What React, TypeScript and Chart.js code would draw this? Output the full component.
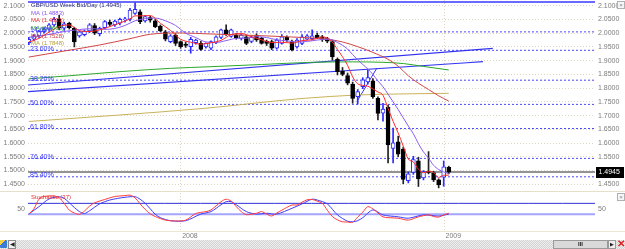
import React, { useEffect, useRef } from "react";
import { Chart, registerables } from "chart.js";
Chart.register(...registerables);

// ---------- DATA (weekly candles, index 0 = mid-June 2007, 83 = early Jan 2009) ----------
const candleOpen = [
  1.965, 1.978, 1.990, 2.006, 2.015, 2.030, 2.050, 2.018, 2.036, 2.018,
  1.990, 1.995, 2.008, 2.028, 1.998, 2.020, 2.040, 2.030, 2.036, 2.049,
  2.050, 2.072, 2.078, 2.045, 2.057, 2.045, 2.026, 2.005, 1.969, 1.993,
  1.969, 1.960, 1.951, 1.965, 1.963, 1.950, 1.945, 1.966, 1.985, 2.012,
  1.988, 1.993, 1.981, 1.987, 1.970, 1.993, 1.981, 1.970, 1.969, 1.945,
  1.963, 1.985, 1.969, 1.950, 1.963, 1.978, 1.980, 1.993, 1.987, 1.980,
  1.969, 1.905, 1.862, 1.846, 1.815, 1.769, 1.805, 1.823, 1.827, 1.763,
  1.709, 1.731, 1.581, 1.605, 1.578, 1.463, 1.493, 1.535, 1.473, 1.497,
  1.492, 1.466, 1.476, 1.512,
];
const candleHigh = [
  1.985, 1.995, 2.010, 2.020, 2.035, 2.058, 2.065, 2.040, 2.040, 2.022,
  2.008, 2.012, 2.035, 2.035, 2.022, 2.046, 2.048, 2.048, 2.055, 2.058,
  2.090, 2.110, 2.085, 2.064, 2.062, 2.050, 2.030, 2.010, 1.995, 1.998,
  1.972, 1.968, 1.985, 1.978, 1.970, 1.965, 1.972, 1.990, 2.015, 2.030,
  2.015, 1.998, 1.996, 1.992, 1.990, 1.998, 1.985, 1.975, 1.975, 1.980,
  1.995, 1.990, 1.975, 1.980, 1.995, 1.995, 2.012, 2.000, 1.992, 1.985,
  1.975, 1.910, 1.875, 1.855, 1.822, 1.795, 1.838, 1.866, 1.835, 1.768,
  1.745, 1.738, 1.655, 1.625, 1.585, 1.495, 1.552, 1.548, 1.500, 1.569,
  1.497, 1.470, 1.535, 1.516,
];
const candleLow = [
  1.958, 1.972, 1.985, 2.000, 2.010, 2.025, 2.012, 2.010, 2.015, 1.950,
  1.985, 1.990, 2.002, 1.995, 1.990, 2.015, 2.025, 2.025, 2.030, 2.040,
  2.045, 2.068, 2.035, 2.040, 2.040, 2.020, 2.005, 1.972, 1.965, 1.955,
  1.945, 1.948, 1.927, 1.960, 1.938, 1.945, 1.940, 1.962, 1.980, 1.992,
  1.985, 1.978, 1.975, 1.958, 1.965, 1.970, 1.960, 1.955, 1.940, 1.942,
  1.960, 1.970, 1.935, 1.945, 1.958, 1.975, 1.975, 1.980, 1.970, 1.965,
  1.902, 1.848, 1.845, 1.812, 1.745, 1.742, 1.798, 1.815, 1.763, 1.684,
  1.680, 1.528, 1.528, 1.550, 1.452, 1.455, 1.486, 1.442, 1.466, 1.488,
  1.460, 1.437, 1.443, 1.488,
];
const candleClose = [
  1.978, 1.990, 2.006, 2.015, 2.030, 2.050, 2.018, 2.034, 2.020, 1.968,
  2.005, 2.008, 2.030, 2.000, 2.018, 2.042, 2.032, 2.044, 2.050, 2.052,
  2.084, 2.087, 2.042, 2.060, 2.047, 2.024, 2.009, 1.978, 1.990, 1.963,
  1.951, 1.955, 1.978, 1.975, 1.941, 1.963, 1.969, 1.987, 2.012, 1.994,
  2.012, 1.982, 1.993, 1.963, 1.985, 1.975, 1.963, 1.963, 1.945, 1.975,
  1.987, 1.975, 1.939, 1.975, 1.987, 1.990, 1.990, 1.984, 1.977, 1.971,
  1.914, 1.860, 1.850, 1.818, 1.763, 1.787, 1.830, 1.838, 1.769, 1.708,
  1.724, 1.593, 1.601, 1.560, 1.468, 1.488, 1.540, 1.470, 1.496, 1.493,
  1.466, 1.448, 1.514, 1.4945,
];

// moving averages: [week index, price]
const maFast = [
  [0, 1.968], [2, 1.981], [4, 2.004], [6, 2.024], [8, 2.030], [10, 2.009], [12, 2.006], [14, 2.012],
  [16, 2.024], [18, 2.037], [20, 2.052], [21, 2.063], [22, 2.063], [24, 2.064], [26, 2.036], [28, 2.010],
  [30, 1.978], [32, 1.967], [34, 1.960], [36, 1.965], [38, 1.974], [40, 1.995], [42, 1.999], [44, 1.987],
  [46, 1.976], [48, 1.966], [50, 1.967], [52, 1.964], [54, 1.973], [56, 1.976], [58, 1.986], [59, 1.982],
  [60, 1.967], [61, 1.941], [62, 1.914], [63, 1.883], [64, 1.841], [65, 1.816], [66, 1.810], [67, 1.807],
  [68, 1.797], [69, 1.786], [70, 1.774], [71, 1.726], [72, 1.679], [73, 1.637], [74, 1.589], [75, 1.542],
  [76, 1.531], [77, 1.505], [78, 1.492], [79, 1.497], [80, 1.493], [81, 1.475], [82, 1.483], [83, 1.4831],
];
const maMid = [
  [0, 1.985], [3, 1.992], [6, 2.003], [9, 2.011], [11, 2.015], [13, 2.016], [15, 2.014], [17, 2.017],
  [19, 2.028], [21, 2.045], [23, 2.053], [25, 2.055], [27, 2.045], [29, 2.028], [31, 2.000], [33, 1.984],
  [35, 1.968], [37, 1.966], [39, 1.973], [41, 1.981], [43, 1.982], [45, 1.987], [47, 1.984], [49, 1.976],
  [51, 1.972], [53, 1.968], [55, 1.970], [57, 1.975], [59, 1.978], [60, 1.975], [61, 1.966], [62, 1.956],
  [63, 1.942], [64, 1.922], [65, 1.903], [66, 1.886], [67, 1.870], [68, 1.850], [69, 1.826], [70, 1.805],
  [71, 1.778], [72, 1.750], [73, 1.722], [74, 1.692], [75, 1.662], [76, 1.634], [77, 1.598], [78, 1.568],
  [79, 1.545], [80, 1.519], [81, 1.504], [82, 1.495], [83, 1.4883],
];
const maSlow = [
  [0, 1.913], [7, 1.935], [14, 1.957], [20, 1.980], [24, 1.996], [30, 2.0007], [36, 1.997], [42, 1.9934],
  [52, 1.986], [59, 1.978], [62, 1.968], [65, 1.951], [68, 1.930], [71, 1.905], [73, 1.880], [75, 1.845],
  [77, 1.818], [79, 1.795], [81, 1.772], [83, 1.7528],
];
const maGreen = [
  [0, 1.834], [8, 1.845], [18, 1.860], [28, 1.872], [36, 1.878], [46, 1.886], [56, 1.894], [64, 1.8955],
  [70, 1.894], [74, 1.8895], [78, 1.879], [83, 1.866],
];
const maYellow = [
  [0, 1.6786], [18, 1.7023], [35, 1.727], [54, 1.7623], [65, 1.775], [73, 1.7787], [83, 1.7812],
];

// trend lines: [week index, price]
const trendUpper = [[-0.16, 1.8114], [91.7, 1.945]];
const trendLower = [[-0.16, 1.787], [89.75, 1.8962]];
const trendShort = [[64.86, 1.7514], [68.8, 1.8733]];

// Fibonacci retracement levels
const fibPrices = [2.1135, 2.0047, 1.9377, 1.8289, 1.7408, 1.653, 1.5443, 1.4773];
const fibLabels = ["", "14.60%", "23.60%", "38.20%", "50.00%", "61.80%", "76.40%", "85.40%"];

const lastPrice = 1.4945;
const priceTicks = [2.1, 2.05, 2.0, 1.95, 1.9, 1.85, 1.8, 1.75, 1.7, 1.65, 1.6, 1.55, 1.5, 1.45];
const yearTickPos = [30.07, 82.11];
const yearLabels = ["2008", "2009"];

const legendLabels = [
  "GBP/USD Week Bid/Day (1.4945)",
  "MA (1.4883)",
  "MA (1.4831)",
  "MA (1.8660)",
  "MA (1.7528)",
  "MA (1.7848)",
];

// stochastic: [week index, value]
const stochK = [
  [0, 31], [1, 50], [2, 85], [3, 95], [5, 97], [6, 90], [7, 70], [8, 45], [9, 35], [10, 30], [11, 42],
  [12, 60], [13, 72], [15, 84], [17, 95], [19, 98], [20, 100], [21, 90], [22, 68], [23, 48], [24, 32],
  [25, 22], [27, 9], [29, 6], [31, 9], [33, 33], [35, 40], [36, 46], [38, 76], [39, 85], [40, 78],
  [41, 58], [42, 40], [43, 29], [45, 34], [46, 40], [47, 31], [48, 24], [49, 35], [50, 45], [52, 64],
  [53, 64], [54, 74], [55, 83], [56, 84], [57, 78], [58, 70], [59, 45], [60, 22], [61, 10], [62, 3],
  [63, 2], [64, 1], [65, 20], [66, 38], [67, 58], [68, 50], [69, 35], [70, 21], [71, 18], [73, 16],
  [75, 9], [77, 21], [79, 28], [80, 22], [81, 20], [82, 28], [83, 34],
];
const stochD = [
  [0, 31], [2, 58], [4, 86], [6, 94], [7, 88], [8, 72], [9, 55], [10, 40], [11, 33], [12, 43], [14, 68],
  [16, 82], [19, 92], [21, 94], [22, 85], [23, 70], [24, 50], [25, 30], [26, 18], [28, 7], [31, 7],
  [34, 31], [36, 40], [38, 65], [39, 76], [40, 76], [41, 65], [43, 40], [45, 31], [47, 34], [49, 31],
  [52, 52], [54, 68], [56, 85], [57, 82], [59, 68], [61, 28], [63, 5], [64, 3], [65, 7], [66, 18],
  [68, 46], [70, 28], [73, 21], [75, 16], [78, 28], [81, 24], [83, 31],
];
const stochLevels = [70, 30];
const stochTicks = [50];
const stochTitle = "Stochastic (37)";

// ---------- LAYOUT / STYLE ----------
const X_MIN = -0.162;
const X_MAX = 111.9;
const Y_MIN = 1.42925;
const Y_MAX = 2.12074;
const S_MIN = -30.5;
const S_MAX = 107.6;
const FONT = "'Liberation Sans', Arial, sans-serif";
const AXIS_GRAY = "#7c7c7c";
const GRID = "#ddd5bf";
const legendColors = ["#23237a", "#8a55f0", "#ee2a2a", "#22a022", "#c83c3c", "#b89c3a"];

const pts = (arr: number[][]) => arr.map(([x, y]) => ({ x, y }));

function fixY(width: number) {
  return (s: any) => {
    s.width = width;
    s.paddingTop = 0;
    s.paddingBottom = 0;
  };
}

function MainChart() {
  const ref = useRef<HTMLCanvasElement>(null);
  useEffect(() => {
    const idx = candleOpen.map((_, i) => i);
    const up = idx.map((i) => candleClose[i] >= candleOpen[i]);
    const line = (data: number[][], color: string, width = 1, extra: any = {}) => ({
      type: "line",
      data: pts(data),
      borderColor: color,
      borderWidth: width,
      pointRadius: 0,
      cubicInterpolationMode: "monotone",
      yAxisID: "y",
      ...extra,
    });
    const fibSets = fibPrices.map((p, k) =>
      line(
        [
          [X_MIN, p],
          [X_MAX, p],
        ],
        k === 0 ? "#6a6aff" : "#4848ff",
        k === 0 ? 2 : 1,
        { borderDash: k === 0 ? [] : [2, 2], order: 20 }
      )
    );
    const datasets: any[] = [
      ...fibSets,
      line(
        [
          [X_MIN, lastPrice],
          [X_MAX, lastPrice],
        ],
        "#707070",
        1.5,
        { order: 19 }
      ),
      line(trendUpper, "#3434f0", 1.2, { order: 18 }),
      line(trendLower, "#3434f0", 1.2, { order: 18 }),
      line(trendShort, "#3434f0", 1, { order: 18 }),
      line(maYellow, "#c9b25a", 1, { order: 17 }),
      line(maGreen, "#2aa82a", 1, { order: 17 }),
      {
        type: "bar",
        data: idx.map((i) => ({ x: i, y: [candleLow[i], candleHigh[i]] })),
        backgroundColor: up.map((u) => (u ? "#2c2cff" : "#202020")),
        barThickness: 1,
        grouped: false,
        yAxisID: "y",
        order: 6,
      },
      {
        type: "bar",
        data: idx.map((i) => ({ x: i, y: [candleOpen[i], candleClose[i]] })),
        backgroundColor: up.map((u) => (u ? "#ffffff" : "#000000")),
        borderColor: up.map((u) => (u ? "#2c2cff" : "#000000")),
        borderWidth: 1,
        borderSkipped: false,
        barThickness: 4,
        grouped: false,
        yAxisID: "y",
        order: 5,
      },
      line(maSlow, "#d04545", 1, { order: 3 }),
      line(maMid, "#8a5cf5", 1, { order: 2 }),
      line(maFast, "#ff2a2a", 1, { order: 1 }),
    ];

    const overlay = {
      id: "mainOverlay",
      afterDraw(chart: any) {
        const { ctx, chartArea, scales } = chart;
        const y = scales.y;
        ctx.save();
        ctx.textAlign = "left";
        ctx.textBaseline = "alphabetic";
        ctx.font = `7px ${FONT}`;
        ctx.fillStyle = "#3a3aff";
        fibPrices.forEach((p, k) => {
          if (!fibLabels[k]) return;
          ctx.fillText(fibLabels[k], chartArea.left + 2, y.getPixelForValue(p) + 0.5);
        });
        ctx.font = `6px ${FONT}`;
        ctx.textBaseline = "middle";
        legendLabels.forEach((t, k) => {
          ctx.fillStyle = legendColors[k];
          ctx.fillText(t, chartArea.left + 3, 5.5 + k * 7.6);
        });
        const py = y.getPixelForValue(lastPrice);
        ctx.fillStyle = "#000";
        ctx.fillRect(chartArea.right + 1, Math.round(py) - 5, 28, 11);
        ctx.fillStyle = "#fff";
        ctx.font = `7px ${FONT}`;
        ctx.fillText(lastPrice.toFixed(4), chartArea.right + 3.5, Math.round(py) + 0.5);
        ctx.restore();
      },
    };

    const chart = new Chart(ref.current as HTMLCanvasElement, {
      type: "line",
      data: { datasets },
      options: {
        animation: false,
        responsive: false,
        maintainAspectRatio: false,
        layout: { padding: { top: 0, bottom: 1, left: 0, right: 0 } },
        plugins: { legend: { display: false }, tooltip: { enabled: false } },
        scales: {
          x: {
            type: "linear",
            min: X_MIN,
            max: X_MAX,
            offset: false,
            afterBuildTicks: (s: any) => {
              s.ticks = yearTickPos.map((v) => ({ value: v }));
            },
            afterFit: (s: any) => {
              s.height = 0;
              s.paddingLeft = 0;
              s.paddingRight = 0;
            },
            ticks: { display: false },
            grid: { color: GRID, drawTicks: false, offset: false },
            border: { display: false, dash: [1, 2] },
          },
          y: {
            type: "linear",
            position: "left",
            min: Y_MIN,
            max: Y_MAX,
            afterBuildTicks: (s: any) => {
              s.ticks = priceTicks.map((v) => ({ value: v }));
            },
            afterFit: fixY(28),
            ticks: {
              color: AXIS_GRAY,
              font: { size: 7, family: FONT },
              padding: 3,
              callback: (v: any) => Number(v).toFixed(4),
            },
            grid: { color: GRID, drawTicks: false },
            border: { display: false, dash: [1, 2] },
          },
          y2: {
            type: "linear",
            position: "right",
            min: Y_MIN,
            max: Y_MAX,
            afterBuildTicks: (s: any) => {
              s.ticks = priceTicks.map((v) => ({ value: v }));
            },
            afterFit: fixY(30),
            ticks: {
              color: AXIS_GRAY,
              font: { size: 7, family: FONT },
              padding: 3,
              callback: (v: any) => Number(v).toFixed(4),
            },
            grid: { display: false, drawTicks: false },
            border: { display: false },
          },
        },
      } as any,
      plugins: [overlay],
    } as any);
    return () => chart.destroy();
  }, []);
  return <canvas ref={ref} width={625} height={191} style={{ position: "absolute", left: 0, top: 0 }} />;
}

function StochChart() {
  const ref = useRef<HTMLCanvasElement>(null);
  useEffect(() => {
    const line = (data: number[][], color: string, width = 1, extra: any = {}) => ({
      type: "line",
      data: pts(data),
      borderColor: color,
      borderWidth: width,
      pointRadius: 0,
      tension: 0.3,
      ...extra,
    });
    const datasets: any[] = [
      line(
        [
          [X_MIN, stochLevels[0]],
          [X_MAX, stochLevels[0]],
        ],
        "#3030d8",
        1,
        { order: 10 }
      ),
      line(
        [
          [X_MIN, stochLevels[1]],
          [X_MAX, stochLevels[1]],
        ],
        "#a4a4ff",
        2,
        { order: 10 }
      ),
      line(stochD, "#3b3bff", 1, { order: 2 }),
      line(stochK, "#ff3c3c", 1, { order: 1 }),
    ];
    const overlay = {
      id: "stochOverlay",
      afterDraw(chart: any) {
        const { ctx, chartArea } = chart;
        ctx.save();
        ctx.font = `6px ${FONT}`;
        ctx.fillStyle = "#e03030";
        ctx.textBaseline = "middle";
        ctx.textAlign = "left";
        ctx.fillText(stochTitle, chartArea.left + 3, chartArea.top + 4.5);
        ctx.restore();
      },
    };
    const chart = new Chart(ref.current as HTMLCanvasElement, {
      type: "line",
      data: { datasets },
      options: {
        animation: false,
        responsive: false,
        maintainAspectRatio: false,
        layout: { padding: { top: 2, bottom: 0, left: 0, right: 0 } },
        plugins: { legend: { display: false }, tooltip: { enabled: false } },
        scales: {
          x: {
            type: "linear",
            min: X_MIN,
            max: X_MAX,
            offset: false,
            afterBuildTicks: (s: any) => {
              s.ticks = yearTickPos.map((v) => ({ value: v }));
            },
            afterFit: (s: any) => {
              s.height = 9;
              s.paddingLeft = 0;
              s.paddingRight = 0;
            },
            ticks: {
              color: AXIS_GRAY,
              font: { size: 7, family: FONT },
              padding: 1,
              labelOffset: 9,
              maxRotation: 0,
              autoSkip: false,
              callback: (_v: any, k: number) => yearLabels[k],
            },
            grid: { color: GRID, drawTicks: false, offset: false },
            border: { display: false, dash: [1, 2] },
          },
          y: {
            type: "linear",
            position: "left",
            min: S_MIN,
            max: S_MAX,
            afterBuildTicks: (s: any) => {
              s.ticks = stochTicks.map((v) => ({ value: v }));
            },
            afterFit: fixY(28),
            ticks: { color: AXIS_GRAY, font: { size: 7, family: FONT }, padding: 3 },
            grid: { display: false, drawTicks: false },
            border: { display: false },
          },
          y2: {
            type: "linear",
            position: "right",
            min: S_MIN,
            max: S_MAX,
            afterBuildTicks: (s: any) => {
              s.ticks = stochTicks.map((v) => ({ value: v }));
            },
            afterFit: fixY(30),
            ticks: { color: AXIS_GRAY, font: { size: 7, family: FONT }, padding: 3 },
            grid: { display: false, drawTicks: false },
            border: { display: false },
          },
        },
      } as any,
      plugins: [overlay],
    } as any);
    return () => chart.destroy();
  }, []);
  return <canvas ref={ref} width={625} height={49} style={{ position: "absolute", left: 0, top: 191 }} />;
}

const box = (left: number, top: number): React.CSSProperties => ({
  position: "absolute",
  left,
  top,
  width: 6,
  height: 6,
  border: "1px solid #b0b0b0",
  background: "#f6f6f6",
  fontSize: 6,
  lineHeight: "6px",
  textAlign: "center",
  color: "#888",
  fontFamily: FONT,
});

export default function App() {
  return (
    <div
      style={{
        position: "fixed",
        left: 0,
        top: 0,
        width: 625,
        height: 249,
        background: "#fff",
        overflow: "hidden",
      }}
    >
      <MainChart />
      <StochChart />
      <div style={{ position: "absolute", left: 0, top: 191, width: 625, height: 1, background: "#e6dfca" }} />
      <div style={{ position: "absolute", left: 0, top: 231, width: 625, height: 1, background: "#ece6d4" }} />
      <div style={box(617, 1)}>×</div>
      <div style={box(617, 193)}>×</div>
      <div
        style={{
          position: "absolute",
          left: 0,
          top: 240,
          width: 625,
          height: 9,
          background: "repeating-conic-gradient(#d2d2d2 0 25%, #efefef 0 50%) 0 0 / 2px 2px",
        }}
      />
      <div
        style={{
          position: "absolute",
          left: 0,
          top: 240,
          width: 7,
          height: 8,
          background: "linear-gradient(135deg, #f4d03f 0 40%, #3a7bd5 40% 100%)",
          borderRadius: 1,
        }}
      />
      <div
        style={{
          position: "absolute",
          left: 8,
          top: 240,
          width: 6,
          height: 7,
          border: "1px solid #8a8a8a",
          background: "#f2f2f2",
          fontSize: 6,
          lineHeight: "7px",
          textAlign: "center",
          color: "#222",
        }}
      >
        ◀
      </div>
      <div
        style={{
          position: "absolute",
          left: 553,
          top: 240,
          width: 53,
          height: 7,
          border: "1px solid #9a9a9a",
          background: "#d9d9d9",
          fontSize: 6,
          lineHeight: "7px",
          textAlign: "center",
          color: "#222",
          fontFamily: FONT,
          fontWeight: "bold",
        }}
      >
        III
      </div>
      <div
        style={{
          position: "absolute",
          left: 608,
          top: 240,
          width: 6,
          height: 7,
          border: "1px solid #9a9a9a",
          background: "#eee",
          fontSize: 5,
          lineHeight: "7px",
          textAlign: "center",
          color: "#222",
        }}
      >
        ▶
      </div>
      <div
        style={{
          position: "absolute",
          left: 616,
          top: 239,
          width: 9,
          height: 10,
          fontSize: 10,
          lineHeight: "10px",
          textAlign: "center",
          color: "#e02020",
          fontWeight: "bold",
          fontFamily: FONT,
        }}
      >
        ✕
      </div>
    </div>
  );
}
